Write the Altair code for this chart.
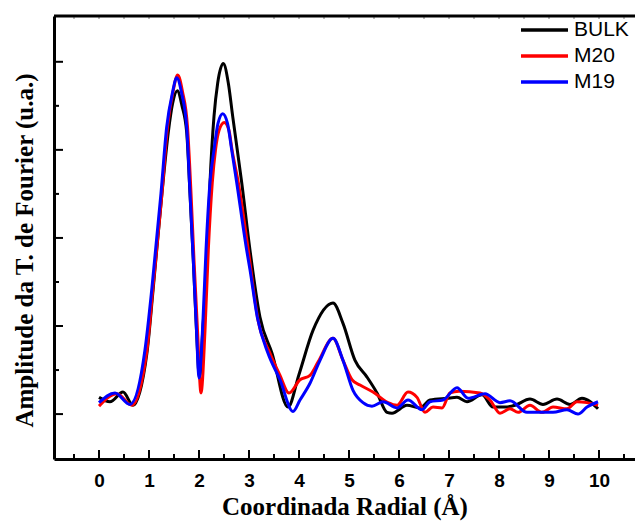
import altair as alt
import pandas as pd

series_names = ["BULK", "M20", "M19"]
series_colors = ["#000000", "#ff0000", "#0000ff"]

bulk_r = [0.0, 0.22, 0.48, 0.68, 0.96, 1.08, 1.25, 1.386, 1.47, 1.566, 1.66, 1.754, 1.82,
          1.89, 1.95, 2.01, 2.08, 2.154, 2.22, 2.30, 2.374, 2.486, 2.586, 2.674, 2.854, 3.02,
          3.22, 3.46, 3.78, 4.00, 4.28, 4.68, 4.88, 5.12, 5.36, 5.56, 5.76, 5.86, 6.16, 6.42,
          6.62, 6.96, 7.16, 7.36, 7.66, 7.88, 8.12, 8.32, 8.62, 8.88, 9.16, 9.42, 9.66, 9.98]
bulk_a = [0.19, 0.14, 0.25, 0.10, 0.70, 1.40, 2.45, 3.20, 3.52, 3.67, 3.50, 3.20, 2.50,
          1.70, 0.95, 0.41, 1.00, 1.64, 2.63, 3.38, 3.76, 3.98, 3.76, 3.38, 2.63, 1.86,
          1.10, 0.69, 0.08, 0.45, 0.95, 1.26, 1.03, 0.61, 0.42, 0.24, 0.02, 0.01, 0.10, 0.07,
          0.16, 0.18, 0.19, 0.14, 0.22, 0.08, 0.08, 0.10, 0.17, 0.11, 0.17, 0.11, 0.18, 0.06]

m20_r = [0.0, 0.36, 0.66, 0.96, 1.08, 1.26, 1.37, 1.48, 1.574, 1.67, 1.77, 1.84, 1.90,
         1.97, 2.04, 2.12, 2.186, 2.266, 2.33, 2.40, 2.506, 2.60, 2.66, 2.786, 2.986, 3.18,
         3.42, 3.62, 3.80, 4.02, 4.22, 4.38, 4.68, 4.88, 5.06, 5.22, 5.48, 5.78, 5.96, 6.18,
         6.36, 6.52, 6.68, 6.86, 7.02, 7.20, 7.62, 7.82, 8.02, 8.22, 8.38, 8.62, 8.86, 9.08,
         9.36, 9.56, 9.76, 9.98]
m20_a = [0.09, 0.23, 0.10, 0.73, 1.44, 2.51, 3.26, 3.66, 3.85, 3.66, 3.26, 2.51, 1.75,
         0.95, 0.24, 0.95, 1.86, 2.63, 3.00, 3.22, 3.31, 3.22, 3.00, 2.63, 1.86, 1.07,
         0.69, 0.44, 0.24, 0.39, 0.44, 0.59, 0.86, 0.61, 0.39, 0.33, 0.25, 0.13, 0.10, 0.25,
         0.19, 0.02, 0.08, 0.07, 0.24, 0.26, 0.24, 0.16, 0.01, 0.06, 0.02, 0.10, 0.02, 0.08,
         0.06, 0.14, 0.13, 0.10]

m19_r = [0.0, 0.32, 0.62, 0.92, 1.06, 1.24, 1.354, 1.466, 1.554, 1.654, 1.754, 1.82,
         1.886, 1.95, 2.00, 2.08, 2.14, 2.22, 2.30, 2.38, 2.474, 2.57, 2.654, 2.754, 2.954,
         3.02, 3.166, 3.38, 3.62, 3.88, 4.02, 4.22, 4.42, 4.68, 4.88, 5.08, 5.28, 5.46, 5.68,
         5.96, 6.18, 6.46, 6.62, 6.88, 7.16, 7.38, 7.72, 8.02, 8.22, 8.56, 8.82, 9.08, 9.36,
         9.58, 9.76, 9.98]
m19_a = [0.13, 0.24, 0.11, 0.73, 1.44, 2.51, 3.26, 3.64, 3.82, 3.64, 3.26, 2.51,
         1.75, 0.95, 0.41, 1.07, 1.86, 2.63, 3.00, 3.30, 3.41, 3.30, 3.00, 2.63, 1.86,
         1.64, 1.10, 0.69, 0.39, 0.03, 0.16, 0.35, 0.61, 0.86, 0.61, 0.27, 0.13, 0.09, 0.14,
         0.07, 0.16, 0.05, 0.14, 0.16, 0.30, 0.18, 0.23, 0.13, 0.15, 0.02, 0.02, 0.02, 0.05,
         0.00, 0.08, 0.14]

x_major = [0, 1, 2, 3, 4, 5, 6, 7, 8, 9, 10]
x_minor = [-0.5, 0.5, 1.5, 2.5, 3.5, 4.5, 5.5, 6.5, 7.5, 8.5, 9.5, 10.5]
x_top = [-0.5, 0, 0.5, 1, 1.5, 2, 2.5, 3, 3.5, 4, 4.5, 5, 5.5, 6, 6.5, 7, 7.5, 8, 8.5, 9, 9.5, 10, 10.5]
y_major = [0, 1, 2, 3, 4]
y_minor = [0.5, 1.5, 2.5, 3.5]

X_DOMAIN = [-0.9, 10.72]
Y_DOMAIN = [-0.51, 4.52]
W, H = 581, 443

rows = []
for i, (name, rs, amps) in enumerate([("BULK", bulk_r, bulk_a), ("M20", m20_r, m20_a), ("M19", m19_r, m19_a)]):
    for r, a in zip(rs, amps):
        rows.append({"r": r, "amp": a, "series": name, "ord": i})
df = pd.DataFrame(rows)

xscale = alt.Scale(domain=X_DOMAIN, nice=False, zero=False)
yscale = alt.Scale(domain=Y_DOMAIN, nice=False, zero=False)

lines = alt.Chart(df).mark_line(strokeWidth=3, interpolate="monotone", clip=True).encode(
    x=alt.X("r:Q", scale=xscale,
            axis=alt.Axis(title="Coordinada Radial (Å)", values=x_major, ticks=False, grid=False,
                          domainWidth=3, domainColor="#000", labelFont="Liberation Sans",
                          labelFontWeight="bold", labelFontSize=19, labelColor="#000",
                          labelPadding=12, titleFont="Liberation Serif", titleFontWeight="bold",
                          titleFontSize=25, titleColor="#000", titlePadding=4, labelFlush=False)),
    y=alt.Y("amp:Q", scale=yscale,
            axis=alt.Axis(title="Amplitude da T. de Fourier (u.a.)", labels=False, ticks=False,
                          grid=False, domainWidth=3, domainColor="#000",
                          titleFont="Liberation Serif", titleFontWeight="bold", titleFontSize=25,
                          titleColor="#000", titlePadding=17, titleY=234)),
    color=alt.Color("series:N", title=None,
                    scale=alt.Scale(domain=series_names, range=series_colors),
                    sort=series_names,
                    legend=alt.Legend(orient="none", legendX=465, legendY=1, symbolType="stroke",
                                      symbolSize=2209, symbolStrokeWidth=3.5, clipHeight=26,
                                      rowPadding=0, padding=0, labelFont="Liberation Sans",
                                      labelFontSize=21, labelColor="#000", labelOffset=4)),
    detail="series:N",
)

xmaj = alt.Chart(pd.DataFrame({"r": x_major})).mark_rule(strokeWidth=2, color="#000").encode(
    x=alt.X("r:Q", scale=xscale), y=alt.value(H), y2=alt.value(H - 9))
xmin = alt.Chart(pd.DataFrame({"r": x_minor})).mark_rule(strokeWidth=2, color="#000").encode(
    x=alt.X("r:Q", scale=xscale), y=alt.value(H), y2=alt.value(H - 5))
xtop = alt.Chart(pd.DataFrame({"r": x_top})).mark_rule(strokeWidth=1, color="#777").encode(
    x=alt.X("r:Q", scale=xscale), y=alt.value(0), y2=alt.value(3))
ymaj = alt.Chart(pd.DataFrame({"amp": y_major})).mark_rule(strokeWidth=2, color="#000").encode(
    y=alt.Y("amp:Q", scale=yscale), x=alt.value(0), x2=alt.value(9))
ymin = alt.Chart(pd.DataFrame({"amp": y_minor})).mark_rule(strokeWidth=2, color="#000").encode(
    y=alt.Y("amp:Q", scale=yscale), x=alt.value(0), x2=alt.value(5))
top = alt.Chart(pd.DataFrame({"amp": [Y_DOMAIN[1]]})).mark_rule(strokeWidth=3, color="#000").encode(
    y=alt.Y("amp:Q", scale=yscale), x=alt.value(0), x2=alt.value(W))

chart = alt.layer(lines, xmaj, xmin, xtop, ymaj, ymin, top).properties(
    width=W, height=H,
    autosize=alt.AutoSizeParams(type="none"),
    padding={"left": 54, "top": 16, "right": 0, "bottom": 64},
    background="#ffffff",
).configure_view(strokeWidth=0)

chart.save("out.html", embed_options={"renderer": "svg", "actions": False})
